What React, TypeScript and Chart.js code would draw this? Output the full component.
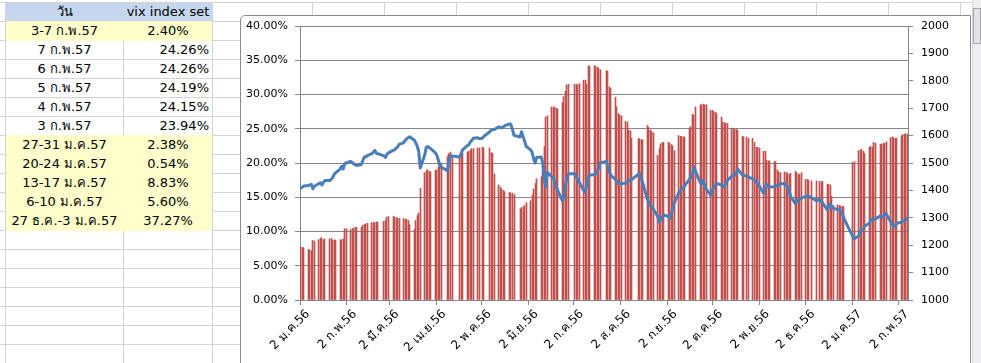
import React, { useEffect, useRef } from 'react';
import { Chart, registerables } from 'chart.js';

Chart.register(...registerables);

// ---------- DATA ----------
const monthKeys = [
  '2013-01', '2013-02', '2013-03', '2013-04', '2013-05', '2013-06', '2013-07',
  '2013-08', '2013-09', '2013-10', '2013-11', '2013-12', '2014-01', '2014-02',
];

// trading days of each month (SET calendar)
const tradingDays: number[][] = [
  [2, 3, 4, 7, 8, 9, 10, 11, 14, 15, 16, 17, 18, 21, 22, 23, 24, 25, 28, 29, 30, 31],
  [1, 4, 5, 6, 7, 8, 11, 12, 13, 14, 15, 18, 19, 20, 21, 22, 26, 27, 28],
  [1, 4, 5, 6, 7, 8, 11, 12, 13, 14, 15, 18, 19, 20, 21, 22, 25, 26, 27, 28, 29],
  [1, 2, 3, 4, 5, 9, 10, 11, 12, 17, 18, 19, 22, 23, 24, 25, 26, 29, 30],
  [2, 3, 7, 8, 9, 10, 13, 14, 15, 16, 17, 20, 21, 22, 23, 27, 28, 29, 30, 31],
  [3, 4, 5, 6, 7, 10, 11, 12, 13, 14, 17, 18, 19, 20, 21, 24, 25, 26, 27, 28],
  [2, 3, 4, 5, 8, 9, 10, 11, 12, 15, 16, 17, 18, 19, 23, 24, 25, 26, 29, 30, 31],
  [1, 2, 5, 6, 7, 8, 9, 13, 14, 15, 16, 19, 20, 21, 22, 23, 26, 27, 28, 29, 30],
  [2, 3, 4, 5, 6, 9, 10, 11, 12, 13, 16, 17, 18, 19, 20, 23, 24, 25, 26, 27, 30],
  [1, 2, 3, 4, 7, 8, 9, 10, 11, 14, 15, 16, 17, 18, 21, 22, 24, 25, 28, 29, 30, 31],
  [1, 4, 5, 6, 7, 8, 11, 12, 13, 14, 15, 18, 19, 20, 21, 22, 25, 26, 27, 28, 29],
  [2, 3, 4, 6, 9, 11, 12, 13, 16, 17, 18, 19, 20, 23, 24, 25, 26, 27, 30],
  [2, 3, 6, 7, 8, 9, 10, 13, 14, 15, 16, 17, 20, 21, 22, 23, 24, 27, 28, 29, 30, 31],
  [3, 4, 5, 6, 7],
];

// VIX (%) – red columns, left axis
const vixByMonth: (number | null)[][] = [
  [7.7, 7.7, 7.6, 7.4, 7.3, 7.2, 8.7, 8.6, 8.8, 9.0, 9.1, 8.8, 8.9, 8.9, 9.0, 8.7, 8.8, 8.7, 8.8, 8.8, 8.9, 10.4],
  [10.4, 10.3, 10.4, 10.5, 10.6, 10.6, 10.6, 10.9, 11.0, 11.1, 11.2, 11.3, 11.3, 11.3, 11.4, 11.4, 11.5, 11.6, 12.1],
  [12.2, 12.2, 12.1, 12.0, 12.0, 11.9, 11.9, 11.8, 11.8, 11.6, 11.0, 10.3, 11.6, 12.3, 12.7, 16.3, 18.6, 18.9, 19.0, 18.8, 18.7],
  [18.9, 19.0, 19.4, 19.8, 19.9, 20.9, 21.4, 21.6, 21.0, 20.8, 21.2, 21.4, 21.6, 21.7, 21.9, 22.1, 22.1, 22.2, 22.2],
  [22.3, 22.2, 22.2, 21.5, 21.4, 18.4, 16.8, 16.5, 16.2, 16.0, 15.8, 15.7, 15.6, 15.6, 15.4, 13.3, 13.5, 13.6, 13.8, 14.2],
  [14.5, 15.3, 16.2, 17.0, 17.7, 18.0, 18.9, 22.4, 26.7, 26.9, 28.2, 28.1, 28.2, 28.0, 27.9, 28.8, 29.7, 30.5, 31.4, 31.5],
  [31.5, 31.5, 31.4, 31.6, 32.1, 32.1, 31.5, 34.2, 34.1, 34.2, 34.1, 34.0, 33.8, 33.6, 33.5, 33.4, 31.1, 30.9, 29.6, 28.2, 27.2],
  [27.0, 26.9, 26.1, 26.0, 24.8, 24.7, 23.6, 23.6, 23.5, 23.4, 23.4, 25.5, 25.2, 24.8, 24.6, 24.4, 21.1, 22.1, 22.8, 23.0, 23.0],
  [23.0, 22.9, 22.7, 22.5, 21.8, 24.0, 23.9, 23.9, 23.8, 23.8, 25.1, 25.3, 27.1, 27.0, 28.2, 28.5, 28.5, 28.6, 28.5, 28.5, 27.7],
  [27.7, 27.5, 27.4, 27.2, 26.7, 26.0, 25.9, 25.8, 25.8, 25.1, 25.0, 24.9, 24.9, 24.8, 23.9, 23.8, 23.8, 23.6, 23.6, 23.0, 22.3, 22.3],
  [22.2, 21.7, 21.7, 20.4, 20.3, 20.3, 20.2, 20.2, 19.0, 18.7, 18.6, 18.7, 18.6, 18.5, 18.3, 18.5, 18.8, 18.6, 18.4, 18.3, 18.6],
  [17.6, 17.6, 17.5, 17.4, 17.4, 17.3, 17.3, 17.3, 16.9, 16.9, 16.8, 15.1, 13.8, 13.9, 13.8, 13.7, 13.7, 13.6, null],
  [20.1, 20.2, 21.8, 21.9, 22.0, 21.7, 21.4, 22.3, 22.4, 22.3, 23.0, 22.9, 22.7, 22.8, 22.8, 22.9, 23.1, 23.7, 23.8, 23.7, 23.6, 23.6],
  [23.94, 24.15, 24.19, 24.26, 24.26],
];

// SET index – blue line, right axis
const setByMonth: number[][] = [
  [1408, 1412, 1416, 1418, 1420, 1422, 1406, 1415, 1425, 1428, 1420, 1430, 1436, 1436, 1440, 1446, 1458, 1464, 1478, 1488, 1478, 1497],
  [1500, 1506, 1502, 1497, 1494, 1491, 1494, 1508, 1522, 1522, 1527, 1534, 1540, 1546, 1535, 1534, 1526, 1520, 1532],
  [1537, 1546, 1548, 1553, 1558, 1568, 1574, 1582, 1588, 1592, 1596, 1584, 1574, 1562, 1542, 1482, 1530, 1558, 1560, 1556, 1552],
  [1537, 1528, 1510, 1490, 1484, 1472, 1506, 1527, 1526, 1522, 1533, 1548, 1563, 1566, 1576, 1582, 1590, 1592, 1589],
  [1590, 1597, 1614, 1620, 1622, 1622, 1632, 1630, 1628, 1632, 1636, 1643, 1640, 1622, 1601, 1595, 1614, 1596, 1580, 1561],
  [1548, 1538, 1515, 1500, 1520, 1522, 1500, 1440, 1412, 1466, 1450, 1448, 1430, 1412, 1398, 1362, 1380, 1420, 1445, 1460],
  [1462, 1452, 1440, 1432, 1400, 1392, 1420, 1450, 1455, 1458, 1462, 1470, 1482, 1500, 1506, 1488, 1470, 1455, 1440, 1432, 1425],
  [1424, 1425, 1426, 1430, 1438, 1434, 1440, 1458, 1462, 1445, 1430, 1370, 1358, 1345, 1340, 1333, 1305, 1284, 1292, 1302, 1310],
  [1305, 1298, 1312, 1335, 1355, 1392, 1398, 1404, 1410, 1418, 1440, 1450, 1460, 1485, 1470, 1430, 1424, 1436, 1418, 1406, 1383],
  [1398, 1410, 1418, 1425, 1420, 1416, 1413, 1425, 1436, 1452, 1454, 1456, 1462, 1478, 1456, 1455, 1452, 1448, 1442, 1437, 1432, 1425],
  [1418, 1390, 1414, 1422, 1414, 1412, 1413, 1416, 1418, 1421, 1424, 1425, 1418, 1412, 1395, 1377, 1352, 1362, 1366, 1369, 1372],
  [1378, 1380, 1378, 1372, 1362, 1368, 1362, 1355, 1330, 1338, 1350, 1342, 1335, 1330, 1332, 1322, 1315, 1300, 1265],
  [1232, 1223, 1235, 1254, 1256, 1262, 1270, 1280, 1292, 1295, 1294, 1296, 1306, 1302, 1304, 1312, 1316, 1285, 1275, 1272, 1268, 1280],
  [1284, 1290, 1288, 1294, 1298],
];

const axisStart = '2013-01-02';
const axisEnd = '2014-02-08';
const tickDates = [
  '2013-01-02', '2013-02-02', '2013-03-02', '2013-04-02', '2013-05-02', '2013-06-02', '2013-07-02',
  '2013-08-02', '2013-09-02', '2013-10-02', '2013-11-02', '2013-12-02', '2014-01-02', '2014-02-02',
];
const tickLabels = [
  '2 ม.ค.56', '2 ก.พ.56', '2 มี.ค.56', '2 เม.ย.56', '2 พ.ค.56', '2 มิ.ย.56', '2 ก.ค.56',
  '2 ส.ค.56', '2 ก.ย.56', '2 ต.ค.56', '2 พ.ย.56', '2 ธ.ค.56', '2 ม.ค.57', '2 ก.พ.57',
];

const tableHeader = ['วัน', 'vix index set'];
const tableDays = [
  '3-7 ก.พ.57', '7 ก.พ.57', '6 ก.พ.57', '5 ก.พ.57', '4 ก.พ.57', '3 ก.พ.57',
  '27-31 ม.ค.57', '20-24 ม.ค.57', '13-17 ม.ค.57', '6-10 ม.ค.57', '27 ธ.ค.-3 ม.ค.57',
];
const tableValues = ['2.40%', '24.26%', '24.26%', '24.19%', '24.15%', '23.94%', '2.38%', '0.54%', '8.83%', '5.60%', '37.27%'];
const tableWeekly = [true, false, false, false, false, false, true, true, true, true, true];

// ---------- helpers ----------
const DAY = 86400000;
const toUTC = (s: string) => {
  const [y, m, d] = s.split('-').map(Number);
  return Date.UTC(y, m - 1, d);
};
const dayIndex = (s: string) => Math.round((toUTC(s) - toUTC(axisStart)) / DAY);

const FONT = "Tahoma, 'DejaVu Sans', sans-serif";
const GRID = '#868686';

function buildSeries() {
  const bars: { x: number; y: number }[] = [];
  const line: { x: number; y: number }[] = [];
  monthKeys.forEach((mk, i) => {
    tradingDays[i].forEach((d, j) => {
      const key = `${mk}-${String(d).padStart(2, '0')}`;
      const x = dayIndex(key) + 0.5;
      const v = vixByMonth[i][j];
      if (v !== null && v !== undefined) bars.push({ x, y: v });
      line.push({ x, y: setByMonth[i][j] });
    });
  });
  return { bars, line };
}

const CW = 729;
const CH = 346;
const PLOT_L = 58;
const PLOT_R = 666;
const PLOT_T = 9;
const PLOT_B = 283;

const zeroPad = (s: any) => {
  s.paddingTop = 0;
  s.paddingBottom = 0;
  s.paddingLeft = 0;
  s.paddingRight = 0;
};

// snap the thin columns to whole device pixels so they render crisp (like Excel)
const snapBars = {
  id: 'snapBars',
  beforeDatasetDraw(_chart: any, args: any) {
    const meta = args.meta;
    if (meta.type !== 'bar') return;
    meta.data.forEach((el: any) => {
      el.x = Math.floor(el.x) + 0.5;
    });
  },
};

export default function App() {
  const ref = useRef<HTMLCanvasElement>(null);

  useEffect(() => {
    const { bars, line } = buildSeries();
    const tickVals = tickDates.map(dayIndex);
    const labelOf = (v: number) => {
      const i = tickVals.indexOf(Math.round(v));
      return i >= 0 ? tickLabels[i] : '';
    };
    const chart = new Chart(ref.current as HTMLCanvasElement, {
      type: 'bar',
      data: {
        datasets: [
          {
            type: 'line',
            data: line,
            yAxisID: 'y1',
            xAxisID: 'x',
            borderColor: '#4A7EBB',
            borderWidth: 3,
            pointRadius: 0,
            tension: 0,
            borderJoinStyle: 'round',
            borderCapStyle: 'round',
            order: 0,
          } as any,
          {
            type: 'bar',
            data: bars,
            yAxisID: 'y',
            xAxisID: 'x',
            backgroundColor: '#C0504D',
            barThickness: 1,
            grouped: false,
            order: 1,
          } as any,
        ],
      },
      plugins: [snapBars],
      options: {
        animation: false,
        responsive: false,
        devicePixelRatio: 1,
        layout: { padding: { top: PLOT_T, left: 0, right: 0, bottom: 0 } },
        plugins: { legend: { display: false }, tooltip: { enabled: false } },
        scales: {
          x: {
            type: 'linear',
            position: 'bottom',
            offset: false,
            min: 0,
            max: dayIndex(axisEnd),
            afterBuildTicks: (s: any) => {
              s.ticks = tickVals.map((v) => ({ value: v }));
            },
            afterFit: (s: any) => {
              s.height = CH - PLOT_B;
              zeroPad(s);
            },
            grid: { offset: false, drawOnChartArea: false, drawTicks: true, tickLength: 5, color: GRID },
            border: { color: GRID },
            ticks: {
              autoSkip: false,
              maxRotation: 45,
              minRotation: 45,
              padding: 2,
              labelOffset: 8,
              color: '#000',
              font: { family: FONT, size: 12 },
              callback: (v: any) => labelOf(Number(v)),
            },
          },
          y: {
            type: 'linear',
            position: 'left',
            min: 0,
            max: 40,
            afterFit: (s: any) => {
              s.width = PLOT_L;
              zeroPad(s);
            },
            grid: { color: GRID, tickLength: 5 },
            border: { color: GRID },
            ticks: {
              stepSize: 5,
              padding: 7,
              color: '#000',
              font: { family: FONT, size: 11 },
              callback: (v: any) => Number(v).toFixed(2) + '%',
            },
          },
          y1: {
            type: 'linear',
            position: 'right',
            min: 1000,
            max: 2000,
            afterFit: (s: any) => {
              s.width = CW - PLOT_R;
              zeroPad(s);
            },
            grid: { drawOnChartArea: false, color: GRID, tickLength: 5 },
            border: { color: GRID },
            ticks: {
              stepSize: 100,
              padding: 8,
              color: '#000',
              font: { family: FONT, size: 11 },
              callback: (v: any) => String(v),
            },
          },
        },
      } as any,
    });
    return () => chart.destroy();
  }, []);

  const rowTop = (k: number) => 2 + 19 * k; // k=0 header
  const hLines: number[] = [];
  for (let k = 1; k * 19 + 2 < 363; k++) hLines.push(rowTop(k));
  const colLines = [312, 384, 456, 528, 600, 672, 744, 816, 888, 960];

  return (
    <div
      style={{
        position: 'absolute',
        left: 0,
        top: 0,
        width: 981,
        height: 363,
        overflow: 'hidden',
        background: '#fff',
        fontFamily: FONT,
        color: '#000',
      }}
    >
      {/* spreadsheet gridlines */}
      <div style={{ position: 'absolute', left: 0, top: 2, width: 981, height: 1, background: '#D4D4D4' }} />
      {hLines.map((y) => (
        <div key={'h' + y} style={{ position: 'absolute', left: 0, top: y, width: 240, height: 1, background: '#D4D4D4' }} />
      ))}
      {[5, 123, 212].map((x) => (
        <div key={'v' + x} style={{ position: 'absolute', left: x, top: 2, width: 1, height: 361, background: '#D4D4D4' }} />
      ))}
      {colLines.map((x) => (
        <div key={'c' + x} style={{ position: 'absolute', left: x, top: 2, width: 1, height: 13, background: '#D4D4D4' }} />
      ))}

      {/* header row */}
      <div style={{ position: 'absolute', left: 6, top: 3, width: 206, height: 18, background: '#C5D7EE' }} />
      <div style={{ position: 'absolute', left: 6, top: 3, width: 117, height: 18, lineHeight: '18px', textAlign: 'center', fontSize: 13 }}>
        {tableHeader[0]}
      </div>
      <div style={{ position: 'absolute', left: 124, top: 3, width: 88, height: 18, lineHeight: '18px', textAlign: 'center', fontSize: 13 }}>
        {tableHeader[1]}
      </div>

      {/* table rows */}
      {tableDays.map((d, i) => {
        const top = rowTop(i + 1);
        const weekly = tableWeekly[i];
        return (
          <React.Fragment key={'r' + i}>
            {weekly && (
              <div style={{ position: 'absolute', left: 6, top: top, width: 206, height: 20, background: '#FFFFCC' }} />
            )}
            <div style={{ position: 'absolute', left: 6, top: top + 1, width: 117, height: 18, lineHeight: '18px', textAlign: 'center', fontSize: 13, whiteSpace: 'nowrap' }}>
              {d}
            </div>
            <div
              style={{
                position: 'absolute',
                left: 124,
                top: top + 1,
                width: weekly ? 88 : 85,
                height: 18,
                lineHeight: '18px',
                textAlign: weekly ? 'center' : 'right',
                fontSize: 13,
                whiteSpace: 'nowrap',
              }}
            >
              {tableValues[i]}
            </div>
          </React.Fragment>
        );
      })}

      {/* chart frame */}
      <div
        style={{
          position: 'absolute',
          left: 240,
          top: 15,
          width: 731,
          height: 360,
          border: '1px solid #8C8C8C',
          borderTopLeftRadius: 5,
          background: '#fff',
          boxSizing: 'border-box',
        }}
      />
      <canvas
        ref={ref}
        width={CW}
        height={CH}
        style={{ position: 'absolute', left: 242, top: 17, width: CW, height: CH }}
      />

      {/* scrollbar at right edge */}
      <div style={{ position: 'absolute', left: 972, top: 0, width: 9, height: 363, background: '#EEEEF0', borderLeft: '1px solid #D8D8D8' }} />
      <div style={{ position: 'absolute', left: 973, top: 8, width: 8, height: 36, background: '#E2E2E6', border: '1px solid #A8A8B0', boxSizing: 'border-box' }} />
    </div>
  );
}
